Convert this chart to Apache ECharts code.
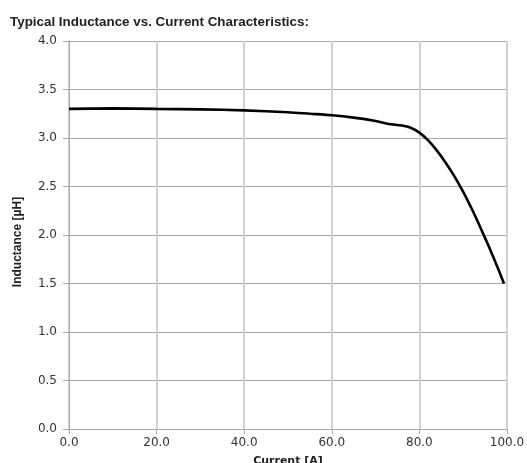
<!DOCTYPE html>
<html>
<head>
<meta charset="utf-8">
<script src="https://cdn.jsdelivr.net/npm/echarts@6/dist/echarts.min.js"></script>
<style>html,body{margin:0;padding:0;background:#fff}#c{width:527px;height:463px}</style>
</head>
<body>
<div id="c"></div>
<script>
const currentA = [0, 10, 20, 30, 40, 50, 55, 60, 65, 70, 73, 76, 78, 80, 82, 84, 86, 88, 90, 92, 94, 96, 98, 99.3];
const inductanceUH = [3.30, 3.305, 3.30, 3.295, 3.285, 3.265, 3.25, 3.235, 3.21, 3.175, 3.145, 3.128, 3.105, 3.055, 2.975, 2.87, 2.745, 2.605, 2.445, 2.265, 2.07, 1.865, 1.65, 1.50];
const xTickLabels = ['0.0', '20.0', '40.0', '60.0', '80.0', '100.0'];
const titleText = 'Typical Inductance vs. Current Characteristics:';
const xName = 'Current [A]';
const yName = 'Inductance [µH]';

const frameColor = '#aaa';
const chart = echarts.init(document.getElementById('c'));
chart.setOption({
  animation: false,
  title: {
    text: titleText, left: 5, top: 11,
    textStyle: { fontFamily: 'Liberation Sans', fontWeight: 'bold', fontSize: 13.4, color: '#222' }
  },
  grid: { left: 69, right: 20, top: 41, bottom: 34, containLabel: false, outerBoundsMode: 'none' },
  xAxis: [{
    type: 'value', min: 0, max: 100, interval: 20,
    name: xName, nameLocation: 'middle', nameGap: 27,
    nameTextStyle: { fontFamily: 'DejaVu Sans', fontWeight: 'bold', fontSize: 11, color: '#222' },
    axisLine: { show: true, lineStyle: { color: frameColor, width: 1 } },
    axisTick: { show: true, length: 5, lineStyle: { color: frameColor } },
    axisLabel: { formatter: v => xTickLabels[Math.round(v / 20)], fontFamily: 'DejaVu Sans', fontSize: 12, color: '#333', margin: 8 },
    splitLine: { show: true, lineStyle: { color: '#d2d2d2', width: 2 } }
  }, {
    type: 'value', position: 'top', min: 0, max: 100,
    axisLine: { show: true, lineStyle: { color: frameColor } }, axisTick: { show: false }, axisLabel: { show: false }, splitLine: { show: false }
  }],
  yAxis: [{
    type: 'value', min: 0, max: 4, interval: 0.5,
    name: yName, nameLocation: 'middle', nameGap: 45,
    nameTextStyle: { fontFamily: 'Liberation Sans', fontWeight: 'bold', fontSize: 12, color: '#222', padding: [0, 14, 0, 0] },
    axisLine: { show: true, lineStyle: { color: frameColor, width: 1 } },
    axisTick: { show: true, length: 6, lineStyle: { color: frameColor } },
    axisLabel: { formatter: v => v.toFixed(1), fontFamily: 'DejaVu Sans', fontSize: 12, color: '#333', margin: 12 },
    splitLine: { show: true, lineStyle: { color: frameColor, width: 1 } }
  }, {
    type: 'value', position: 'right', min: 0, max: 4,
    axisLine: { show: true, lineStyle: { color: frameColor } }, axisTick: { show: false }, axisLabel: { show: false }, splitLine: { show: false }
  }],
  series: [{
    type: 'line',
    data: currentA.map((x, i) => [x, inductanceUH[i]]),
    smooth: 0.25,
    showSymbol: false,
    lineStyle: { color: '#000', width: 2.6 }
  }]
});
</script>
</body>
</html>
